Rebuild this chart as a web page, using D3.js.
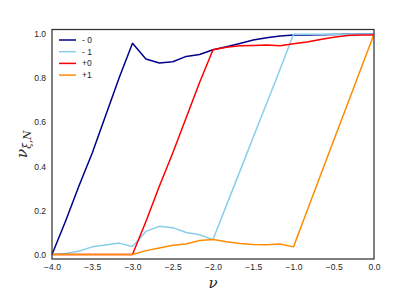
<!DOCTYPE html>
<html><head><meta charset="utf-8">
<script src="https://cdn.jsdelivr.net/npm/d3@7"></script>
<style>body{margin:0;background:#fff}svg{display:block}</style>
</head><body>
<script>
// x grid: steps of 1/6 from -4 to 0
const xs = d3.range(25).map(k => -4 + k / 6);
const seriesNames = ["- 0", "- 1", "+0", "+1"];
const seriesColors = ["#00008B", "#87CEEB", "#FF0000", "#FF8C00"];
const minus0 = [0, 0.15, 0.31, 0.46, 0.63, 0.80, 0.958, 0.886, 0.868, 0.874, 0.898, 0.907, 0.928,
  0.942, 0.957, 0.972, 0.983, 0.99, 0.995, 0.995, 0.996, 0.997, 0.998, 0.998, 0.998];
const minus1 = [0, 0.005, 0.015, 0.035, 0.043, 0.052, 0.037, 0.105, 0.128, 0.122, 0.100, 0.090, 0.068,
  0.223, 0.377, 0.532, 0.686, 0.840, 0.998, 0.998, 0.998, 0.998, 0.998, 0.998, 0.998];
const plus0 = [0, 0, 0, 0, 0, 0, 0, 0.15, 0.31, 0.46, 0.62, 0.78, 0.928,
  0.94, 0.946, 0.948, 0.950, 0.946, 0.955, 0.963, 0.975, 0.985, 0.993, 0.995, 0.995];
const plus1 = [0, 0, 0, 0, 0, 0, 0, 0.018, 0.030, 0.042, 0.048, 0.064, 0.068,
  0.058, 0.050, 0.046, 0.045, 0.048, 0.035, 0.196, 0.357, 0.518, 0.678, 0.839, 0.998];
const seriesValues = [minus0, minus1, plus0, plus1];
const xTicks = [-4.0, -3.5, -3.0, -2.5, -2.0, -1.5, -1.0, -0.5, 0.0];
const yTicks = [0.0, 0.2, 0.4, 0.6, 0.8, 1.0];

const W = 415, H = 297;
const m = {l: 52, r: 41, t: 29.5, b: 38};
const svg = d3.select("body").append("svg").attr("width", W).attr("height", H);
const x = d3.scaleLinear().domain([-4, 0]).range([m.l, W - m.r]);
const y = d3.scaleLinear().domain([-0.02, 1.02]).range([H - m.b, m.t]);
const fmt = v => d3.format(".1f")(v).replace("-", "\u2212");
const textCol = "#262626";
const sans = "Liberation Sans, Arial, DejaVu Sans, sans-serif";

const xa = svg.append("g").attr("transform", `translate(0,${H - m.b})`)
  .call(d3.axisBottom(x).tickValues(xTicks).tickFormat(fmt).tickSize(0).tickPadding(5));
const ya = svg.append("g").attr("transform", `translate(${m.l},0)`)
  .call(d3.axisLeft(y).tickValues(yTicks).tickFormat(d3.format(".1f")).tickSize(0).tickPadding(6));
[xa, ya].forEach(a => {
  a.select(".domain").remove();
  a.selectAll("text").attr("font-family", sans).attr("font-size", 8.5).attr("fill", textCol);
});

const line = d3.line().x((d, i) => x(xs[i])).y(d => y(d));
seriesValues.forEach((vals, i) => {
  svg.append("path").datum(vals).attr("d", line).attr("fill", "none")
    .attr("stroke", seriesColors[i]).attr("stroke-width", 1.5).attr("stroke-linejoin", "round");
});

svg.append("rect").attr("x", m.l).attr("y", m.t).attr("width", W - m.l - m.r).attr("height", H - m.t - m.b)
  .attr("fill", "none").attr("stroke", "#333").attr("stroke-width", 1.25);

// legend
const lg = svg.append("g");
seriesNames.forEach((n, i) => {
  const yy = 40 + i * 11.7;
  lg.append("line").attr("x1", 59).attr("x2", 76).attr("y1", yy).attr("y2", yy)
    .attr("stroke", seriesColors[i]).attr("stroke-width", 1.5);
  lg.append("text").attr("x", 82).attr("y", yy + 3).text(n)
    .attr("font-family", sans).attr("font-size", 8.5).attr("fill", textCol);
});

// axis labels
svg.append("text").attr("x", (m.l + W - m.r) / 2).attr("y", 288).attr("text-anchor", "middle")
  .attr("font-family", "DejaVu Serif, serif").attr("font-style", "italic").attr("font-size", 15)
  .attr("fill", textCol).text("ν");
const yl = svg.append("text").attr("transform", `translate(27,${(m.t + H - m.b) / 2}) rotate(-90)`)
  .attr("text-anchor", "middle").attr("font-family", "DejaVu Serif, serif").attr("font-style", "italic")
  .attr("font-size", 15).attr("fill", textCol);
yl.append("tspan").text("ν");
yl.append("tspan").attr("font-size", 10.5).attr("dy", 4).text("ξ,N");
</script>
</body></html>
